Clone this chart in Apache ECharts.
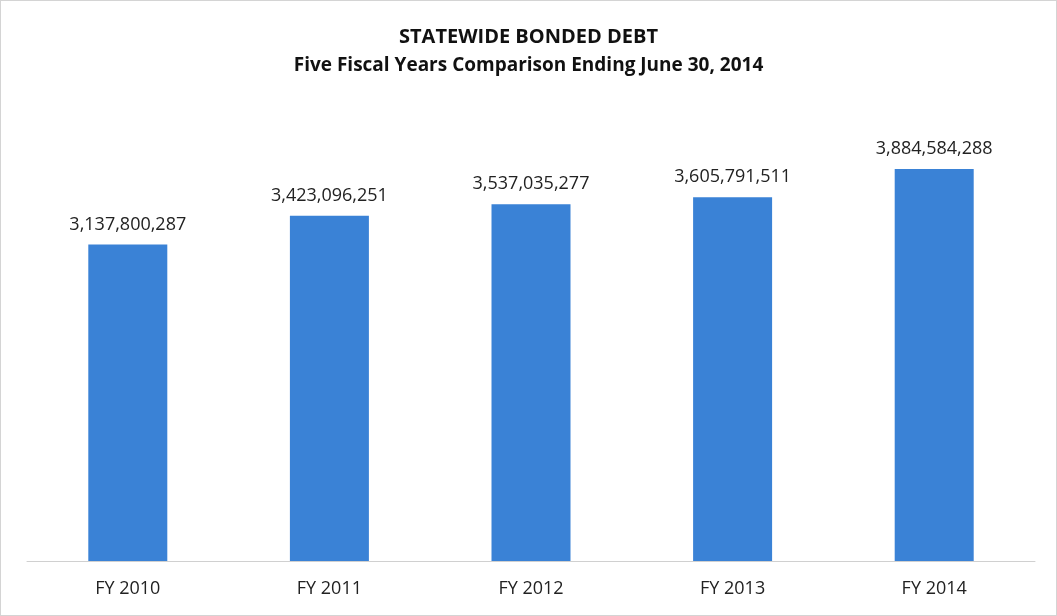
<!DOCTYPE html>
<html>
<head>
<meta charset="utf-8">
<script src="https://cdn.jsdelivr.net/npm/echarts@6/dist/echarts.min.js"></script>
<style>
  html, body { margin: 0; padding: 0; background: #fff; }
  #chart { width: 1057px; height: 616px; box-sizing: border-box; border: 1px solid #d4d4d4; }
</style>
</head>
<body>
<div id="chart"></div>
<script>
var years = ['FY 2010', 'FY 2011', 'FY 2012', 'FY 2013', 'FY 2014']
var debt = [3137800287, 3423096251, 3537035277, 3605791511, 3884584288]

var myChart = echarts.init(document.getElementById('chart'))

myChart.setOption({
    animation: false,
    title: [{
        text: 'STATEWIDE BONDED DEBT',
        left: 'center',
        top: 21,
        textStyle: { fontFamily: 'Open Sans', fontSize: 20, fontWeight: 'bold', color: '#111' }
    }, {
        text: 'Five Fiscal Years Comparison Ending June 30, 2014',
        left: 'center',
        top: 50,
        textStyle: { fontFamily: 'Open Sans', fontSize: 19, fontWeight: 'bold', color: '#111' }
    }],
    grid: { left: 26, right: 21, top: 106, bottom: 54 },
    xAxis: {
        type: 'category',
        data: years,
        axisLine: { lineStyle: { color: '#d0d0d0', width: 1 } },
        axisTick: { show: false },
        axisLabel: { margin: 19, fontFamily: 'Open Sans', fontSize: 18, color: '#222' }
    },
    yAxis: {
        type: 'value',
        min: 0,
        max: 4500000000,
        show: false,
        splitLine: { show: false }
    },
    series: [{
        type: 'bar',
        data: debt,
        barWidth: 79,
        itemStyle: { color: '#3a82d6' },
        label: {
            show: true,
            position: 'top',
            distance: 11,
            fontFamily: 'Open Sans',
            fontSize: 18,
            color: '#222',
            formatter: function (p) {
                return p.value.toLocaleString('en-US')
            }
        }
    }]
})
</script>
</body>
</html>
